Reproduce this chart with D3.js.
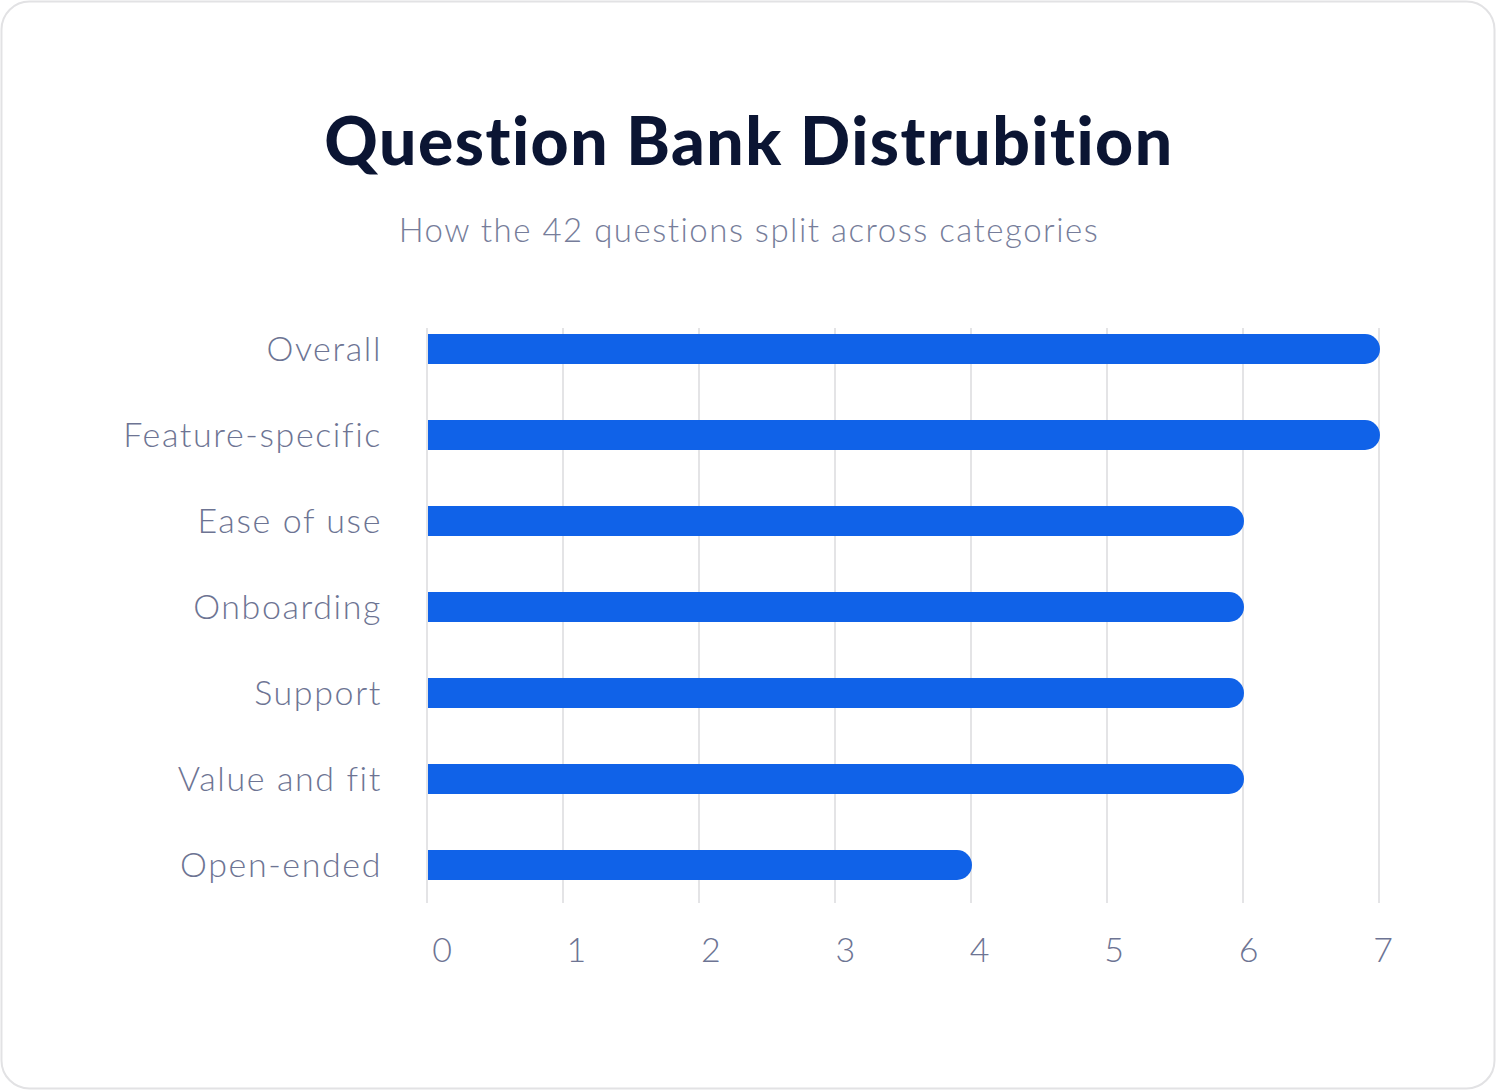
<!DOCTYPE html>
<html>
<head>
<meta charset="utf-8">
<script src="https://cdn.jsdelivr.net/npm/d3@7"></script>
<style>
  html, body { margin: 0; padding: 0; background: #ffffff; }
  svg { display: block; }
  text { font-variant-ligatures: none; font-feature-settings: "liga" 0; }
</style>
</head>
<body>
<div id="chart"></div>
<script>
  // DATA
  var categories = ["Overall", "Feature-specific", "Ease of use", "Onboarding", "Support", "Value and fit", "Open-ended"];
  var counts = [7, 7, 6, 6, 6, 6, 4];
  var tickValues = [0, 1, 2, 3, 4, 5, 6, 7];
  var title = "Question Bank Distrubition";
  var subtitle = "How the 42 questions split across categories";

  var W = 1496, H = 1090;
  var svg = d3.select("#chart")
    .append("svg")
    .attr("width", W)
    .attr("height", H);

  // card
  svg.append("rect")
    .attr("x", 1.5).attr("y", 1.5)
    .attr("width", W - 3).attr("height", H - 3)
    .attr("rx", 28).attr("ry", 28)
    .attr("fill", "#ffffff")
    .attr("stroke", "#e2e2e4")
    .attr("stroke-width", 2);

  svg.append("text")
    .attr("x", 749).attr("y", 165)
    .attr("text-anchor", "middle")
    .style("font-family", "Lato, 'Noto Sans', sans-serif")
    .style("font-weight", 900)
    .style("font-size", "66px")
    .style("letter-spacing", "1.5px")
    .attr("fill", "#0b1533")
    .text(title);

  svg.append("text")
    .attr("x", 749).attr("y", 242)
    .attr("text-anchor", "middle")
    .style("font-family", "Lato, 'Noto Sans', sans-serif")
    .style("font-weight", 300)
    .style("font-size", "33px")
    .style("letter-spacing", "1.5px")
    .attr("fill", "#767d9a")
    .text(subtitle);

  var xScale = d3.scaleLinear().domain([0, 7]).range([427, 1379]);
  var labelScale = d3.scaleLinear().domain([0, 7]).range([442, 1383]);
  var yScale = d3.scalePoint().domain(categories).range([349, 865]);
  var barH = 30;

  var g = svg.append("g").classed("chart", true);

  // grid
  g.selectAll("line.grid")
    .data(tickValues)
    .enter()
    .append("line")
    .attr("class", "grid")
    .attr("x1", function(d) { return xScale(d); })
    .attr("x2", function(d) { return xScale(d); })
    .attr("y1", 328)
    .attr("y2", 903)
    .attr("stroke", "#e4e4e6")
    .attr("stroke-width", 2);

  // bars: flat left, round right end
  function barPath(d, i) {
    var x0 = xScale(0) + 1, x1 = xScale(d) + 1, y = yScale(categories[i]) - barH / 2, r = barH / 2;
    return "M" + x0 + "," + y +
      "H" + (x1 - r) +
      "A" + r + "," + r + " 0 0 1 " + (x1 - r) + "," + (y + barH) +
      "H" + x0 + "Z";
  }
  g.selectAll("path.bar")
    .data(counts)
    .enter()
    .append("path")
    .attr("class", "bar")
    .attr("d", barPath)
    .attr("fill", "#1062e8");

  // category labels
  g.selectAll("text.cat")
    .data(categories)
    .enter()
    .append("text")
    .attr("class", "cat")
    .attr("x", 382)
    .attr("y", function(d) { return yScale(d); })
    .attr("dy", "0.36em")
    .attr("text-anchor", "end")
    .style("font-family", "Lato, 'Noto Sans', sans-serif")
    .style("font-weight", 300)
    .style("font-size", "34px")
    .style("letter-spacing", "1.6px")
    .attr("fill", "#6d7493")
    .text(function(d) { return d; });

  // tick labels
  g.selectAll("text.tick")
    .data(tickValues)
    .enter()
    .append("text")
    .attr("class", "tick")
    .attr("x", function(d) { return labelScale(d); })
    .attr("y", 962)
    .attr("text-anchor", "middle")
    .style("font-family", "Lato, 'Noto Sans', sans-serif")
    .style("font-weight", 300)
    .style("font-size", "34px")
    .attr("fill", "#6d7493")
    .text(function(d) { return d; });
</script>
</body>
</html>
